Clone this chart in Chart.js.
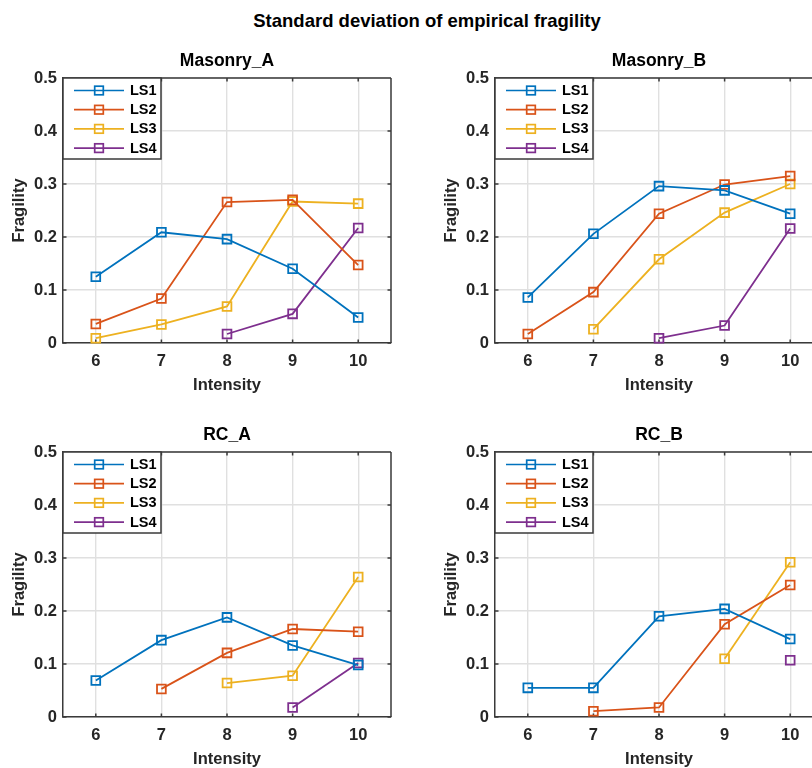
<!DOCTYPE html>
<html>
<head>
<meta charset="utf-8">
<script src="https://cdn.jsdelivr.net/npm/chart.js@4/dist/chart.umd.min.js"></script>
<style>
html, body { margin: 0; padding: 0; background: #fff; width: 812px; height: 768px; overflow: hidden; }
#wrap { position: relative; width: 812px; height: 768px; overflow: hidden; }
#suptitle { position: absolute; left: 0; top: 10px; width: 854px; text-align: center;
  font: bold 18.5px "Liberation Sans", Arial, sans-serif; line-height: 22px; color: #000; }
canvas { position: absolute; }
</style>
</head>
<body>
<div id="wrap">
  <div id="suptitle">Standard deviation of empirical fragility</div>
  <canvas id="c0" width="420" height="370" style="left:0px;top:40px"></canvas>
  <canvas id="c1" width="420" height="370" style="left:432px;top:40px"></canvas>
  <canvas id="c2" width="420" height="370" style="left:0px;top:414px"></canvas>
  <canvas id="c3" width="420" height="370" style="left:432px;top:414px"></canvas>
</div>
<script>
// ---- data ----
const intensity = [6, 7, 8, 9, 10];
const yTicks = [0, 0.1, 0.2, 0.3, 0.4, 0.5];
const seriesNames = ['LS1', 'LS2', 'LS3', 'LS4'];
const panelTitles = ['Masonry_A', 'Masonry_B', 'RC_A', 'RC_B'];

const masonryA_LS1 = [0.125, 0.209, 0.196, 0.140, 0.048];
const masonryA_LS2 = [0.036, 0.084, 0.266, 0.270, 0.147];
const masonryA_LS3 = [0.009, 0.035, 0.069, 0.267, 0.263];
const masonryA_LS4 = [null, null, 0.017, 0.055, 0.217];

const masonryB_LS1 = [0.086, 0.206, 0.296, 0.288, 0.244];
const masonryB_LS2 = [0.017, 0.096, 0.244, 0.299, 0.315];
const masonryB_LS3 = [null, 0.026, 0.158, 0.246, 0.300];
const masonryB_LS4 = [null, null, 0.009, 0.033, 0.216];

const rcA_LS1 = [0.069, 0.145, 0.188, 0.135, 0.098];
const rcA_LS2 = [null, 0.053, 0.121, 0.166, 0.161];
const rcA_LS3 = [null, null, 0.064, 0.078, 0.264];
const rcA_LS4 = [null, null, null, 0.018, 0.102];

const rcB_LS1 = [0.055, 0.055, 0.190, 0.204, 0.147];
const rcB_LS2 = [null, 0.011, 0.018, 0.175, 0.249];
const rcB_LS3 = [null, null, null, 0.110, 0.292];
const rcB_LS4 = [null, null, null, null, 0.107];

const panelSeries = [
  [masonryA_LS1, masonryA_LS2, masonryA_LS3, masonryA_LS4],
  [masonryB_LS1, masonryB_LS2, masonryB_LS3, masonryB_LS4],
  [rcA_LS1, rcA_LS2, rcA_LS3, rcA_LS4],
  [rcB_LS1, rcB_LS2, rcB_LS3, rcB_LS4]
];

const colors = ['#0072BD', '#D95319', '#EDB120', '#7E2F8E'];
const axisColor = '#262626';
const frameColor = '#3a3a3a';
const gridColor = '#e0e0e0';

Chart.defaults.font.family = '"Liberation Sans", Arial, Helvetica, sans-serif';

// frame (top/right box lines + inward ticks)
const framePlugin = {
  id: 'frameBox',
  beforeDatasetsDraw(chart) {
    const { ctx, chartArea: a, scales } = chart;
    ctx.save();
    ctx.strokeStyle = frameColor;
    ctx.lineWidth = 1.5;
    ctx.beginPath();
    ctx.moveTo(a.left, a.top); ctx.lineTo(a.right, a.top);
    ctx.moveTo(a.right, a.top); ctx.lineTo(a.right, a.bottom);
    const tl = 3.5;
    scales.x.ticks.forEach(t => {
      const px = scales.x.getPixelForValue(t.value);
      ctx.moveTo(px, a.bottom); ctx.lineTo(px, a.bottom - tl);
      ctx.moveTo(px, a.top); ctx.lineTo(px, a.top + tl);
    });
    scales.y.ticks.forEach(t => {
      const py = scales.y.getPixelForValue(t.value);
      ctx.moveTo(a.left, py); ctx.lineTo(a.left + tl, py);
      ctx.moveTo(a.right, py); ctx.lineTo(a.right - tl, py);
    });
    ctx.stroke();
    ctx.restore();
  }
};

// MATLAB-style legend box in the upper-left of the axes
const legendPlugin = {
  id: 'boxLegend',
  afterDatasetsDraw(chart) {
    const { ctx, chartArea: a } = chart;
    const w = 98, h = 81;
    const x0 = a.left, y0 = a.top;
    ctx.save();
    ctx.fillStyle = '#fff';
    ctx.fillRect(x0, y0, w, h);
    ctx.strokeStyle = frameColor;
    ctx.lineWidth = 1.5;
    ctx.strokeRect(x0, y0, w, h);
    ctx.font = 'bold 14.5px "Liberation Sans", Arial, sans-serif';
    ctx.textBaseline = 'middle';
    ctx.textAlign = 'left';
    chart.data.datasets.forEach((ds, i) => {
      const yy = y0 + 12.5 + i * 19.2;
      ctx.strokeStyle = ds.borderColor;
      ctx.lineWidth = 1.7;
      ctx.beginPath();
      ctx.moveTo(x0 + 11, yy); ctx.lineTo(x0 + 61, yy);
      ctx.stroke();
      ctx.strokeRect(x0 + 36 - 4.3, yy - 4.3, 8.6, 8.6);
      ctx.fillStyle = '#000';
      ctx.fillText(ds.label, x0 + 67, yy + 0.5);
    });
    ctx.restore();
  }
};

function makeChart(id, title, series) {
  const datasets = series.map((vals, i) => ({
    label: seriesNames[i],
    data: intensity.map((x, j) => ({ x: x, y: vals[j] })),
    borderColor: colors[i],
    backgroundColor: colors[i],
    borderWidth: 1.8,
    pointStyle: 'rect',
    pointRadius: 6.2,
    pointHoverRadius: 6.2,
    pointBorderWidth: 1.8,
    pointBorderColor: colors[i],
    pointBackgroundColor: 'rgba(255,255,255,0)',
    spanGaps: false,
    tension: 0,
    clip: false
  }));
  return new Chart(document.getElementById(id), {
    type: 'line',
    data: { datasets },
    options: {
      responsive: false,
      animation: false,
      events: [],
      layout: { padding: { left: 0, right: 29, top: 0, bottom: 0 } },
      plugins: {
        legend: { display: false },
        tooltip: { enabled: false },
        title: {
          display: true, text: title, fullSize: false, color: '#000',
          font: { size: 17.5, weight: 'bold' }, padding: { top: 11, bottom: 6 }
        }
      },
      scales: {
        x: {
          type: 'linear', min: 5.5, max: 10.5,
          afterBuildTicks: s => { s.ticks = intensity.map(v => ({ value: v })); },
          afterFit: s => { s.height = 67; },
          grid: { color: gridColor, lineWidth: 1.4, drawTicks: false, tickLength: 0 },
          border: { display: true, color: frameColor, width: 1.5 },
          ticks: {
            color: axisColor, font: { size: 16.5, weight: 'bold' }, padding: 9,
            maxRotation: 0, autoSkip: false, callback: v => String(v)
          },
          title: {
            display: true, text: 'Intensity', color: axisColor,
            font: { size: 16.5, weight: 'bold' }, padding: { top: 0, bottom: 15 }
          }
        },
        y: {
          min: 0, max: 0.5,
          afterBuildTicks: s => { s.ticks = yTicks.map(v => ({ value: v })); },
          afterFit: s => { s.width = 63; },
          grid: { color: gridColor, lineWidth: 1.4, drawTicks: false, tickLength: 0 },
          border: { display: true, color: frameColor, width: 1.5 },
          ticks: {
            color: axisColor, font: { size: 16.5, weight: 'bold' }, padding: 6,
            callback: v => (v === 0 ? '0' : Number(v).toFixed(1))
          },
          title: {
            display: true, text: 'Fragility', color: axisColor,
            font: { size: 16.5, weight: 'bold' }, padding: { top: 10, bottom: 0 }
          }
        }
      }
    },
    plugins: [framePlugin, legendPlugin]
  });
}

panelTitles.forEach((t, i) => makeChart('c' + i, t, panelSeries[i]));
</script>
</body>
</html>
